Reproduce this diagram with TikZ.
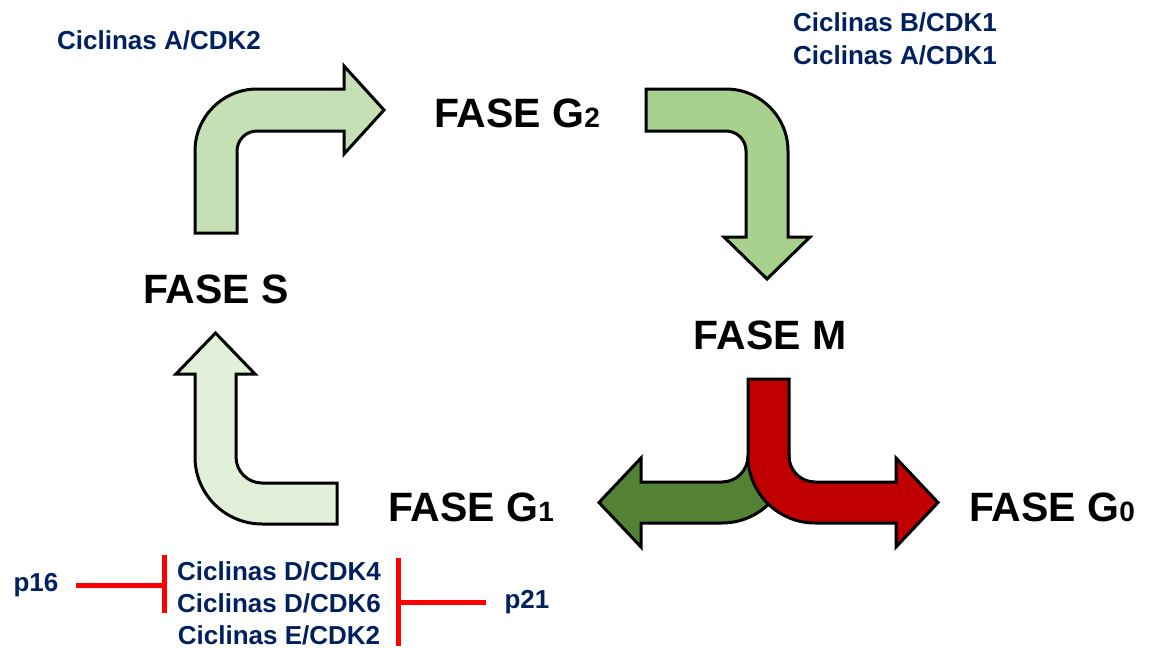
\documentclass[tikz,border=0pt]{standalone}
\usepackage{fontspec}
\setmainfont{Liberation Sans}
\definecolor{navy}{RGB}{0,32,96}
\definecolor{verdeS}{HTML}{C5E0B4}
\definecolor{verdeGdos}{HTML}{A9D18E}
\definecolor{verdeGuno}{HTML}{E2F0D9}
\definecolor{verdeM}{HTML}{548235}
\definecolor{rojoM}{HTML}{C00000}
\definecolor{rojoInh}{HTML}{FF0000}
\newcommand{\faseidx}[1]{{\fontsize{14}{14}\selectfont #1}}

\begin{document}
\begin{tikzpicture}[x=0.5pt,y=-0.5pt,
  fase/.style={font=\fontsize{20.5}{24}\selectfont\bfseries},
  cdk/.style={font=\fontsize{13}{15}\selectfont\bfseries, text=navy},
  flecha/.style={draw=black, line width=1.5pt},
  inhib/.style={draw=rojoInh, line width=2.5pt}]

\useasboundingbox (0,0) rectangle (1152,648);

% fases
\node[fase] (faseS) at (216,289) {FASE S};
\node[fase] (faseG2) at (517,113) {FASE G\faseidx{2}};
\node[fase] (faseM) at (770,335) {FASE M};
\node[fase] (faseG1) at (471,507) {FASE G\faseidx{1}};
\node[fase] (faseG0) at (1052,507) {FASE G\faseidx{0}};

% ciclinas
\node[cdk] (cA2) at (159,40) {Ciclinas A/CDK2};
\node[cdk] (cB1) at (895,22) {Ciclinas B/CDK1};
\node[cdk] (cA1) at (895,55) {Ciclinas A/CDK1};
\node[cdk] (cD4) at (279,571) {Ciclinas D/CDK4};
\node[cdk] (cD6) at (279,603) {Ciclinas D/CDK6};
\node[cdk] (cE2) at (279,635) {Ciclinas E/CDK2};
\node[cdk] (p16) at (36,585) {p16};
\node[cdk] (p21) at (527,602) {p21};

% flechas
\draw[flecha, fill=verdeS] (195,233) -- (195,151) arc[start angle=180, end angle=270, radius=62]
  -- (344,89) -- (344,66) -- (384,110) -- (344,154) -- (344,131) -- (257,131)
  arc[start angle=270, end angle=180, radius=20] -- (237,233) -- cycle;
\draw[flecha, fill=verdeGdos] (646,89) -- (726,89) arc[start angle=270, end angle=360, radius=62]
  -- (788,237) -- (810,237) -- (767,279) -- (724,237) -- (746,237) -- (746,151)
  arc[start angle=0, end angle=-90, radius=20] -- (646,131) -- cycle;
\draw[flecha, fill=verdeGuno] (337,483) -- (262,483) arc[start angle=90, end angle=180, radius=26]
  -- (236,374) -- (255,374) -- (215.5,333) -- (176,374) -- (195,374) -- (195,457)
  arc[start angle=180, end angle=90, radius=67] -- (337,524) -- cycle;
\draw[flecha, fill=verdeM] (748,456) arc[start angle=0, end angle=90, radius=26]
  -- (641,482) -- (641,458) -- (599,502.5) -- (641,547) -- (641,523) -- (722,523)
  arc[start angle=90, end angle=0, radius=67] -- cycle;
\draw[flecha, fill=rojoM] (748,379) -- (789,379) -- (789,456) arc[start angle=180, end angle=90, radius=26]
  -- (896,482) -- (896,458) -- (938,502.5) -- (896,547) -- (896,523) -- (815,523)
  arc[start angle=90, end angle=180, radius=67] -- cycle;

% inhibiciones
\coordinate (barLtop) at (164,555);
\coordinate (barLbot) at (164,613);
\coordinate (barLmid) at (164,585);
\coordinate (barRtop) at (398,558);
\coordinate (barRbot) at (398,646);
\coordinate (barRmid) at (398,602);
\draw[inhib] (barLtop) -- (barLbot);
\draw[inhib] (barRtop) -- (barRbot);
\draw[inhib, shorten <=5.5pt] (p16) -- (barLmid);
\draw[inhib, shorten <=6pt] (p21) -- (barRmid);
\end{tikzpicture}
\end{document}
